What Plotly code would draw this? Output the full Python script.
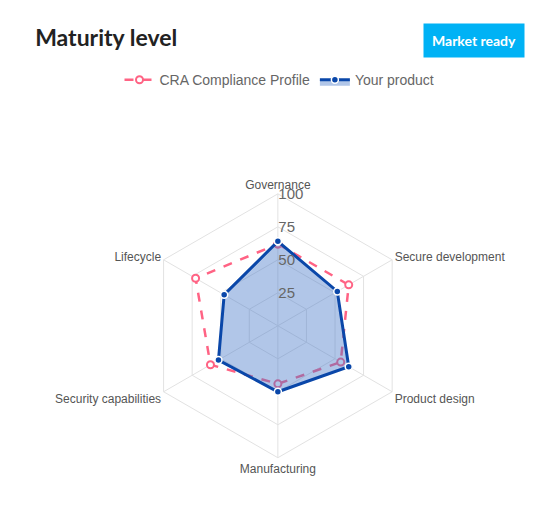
import plotly.graph_objects as go

categories = ["Governance", "Secure development", "Product design",
              "Manufacturing", "Security capabilities", "Lifecycle"]
cra_profile = [62, 62, 55, 44, 59, 72]
your_product = [64, 52, 62, 50, 52, 47]
radial_ticks = [25, 50, 75, 100]

fig = go.Figure()

fig.add_trace(go.Scatterpolar(
    r=cra_profile + cra_profile[:1],
    theta=categories + categories[:1],
    name="CRA Compliance Profile",
    mode="lines+markers",
    line=dict(color="#ff6384", width=2.5, dash="dash"),
    marker=dict(size=7, color="#ffffff", line=dict(color="#ff6384", width=2)),
))
fig.add_trace(go.Scatterpolar(
    r=your_product + your_product[:1],
    theta=categories + categories[:1],
    name="Your product",
    mode="lines+markers",
    line=dict(color="#0a47a9", width=3),
    marker=dict(size=7, color="#0a47a9", line=dict(color="#ffffff", width=1.5)),
    fill="toself",
    fillcolor="rgba(70,120,200,0.42)",
))

fig.update_layout(
    width=543, height=527,
    paper_bgcolor="white",
    font=dict(family="Liberation Sans, Arial", color="#555"),
    margin=dict(l=0, r=0, t=0, b=0),
    title=dict(text="<b>Maturity level</b>", x=0.05, xanchor="left",
               y=0.943, yanchor="middle",
               font=dict(size=23, color="#222", family="Lato, Arial")),
    legend=dict(orientation="h", x=0.5, xanchor="center", y=0.863, yanchor="middle",
                font=dict(size=14, color="#666")),
    annotations=[dict(text="<b>Market ready</b>", x=0.952, xanchor="right", y=0.939,
                      yanchor="middle", xref="paper", yref="paper", showarrow=False,
                      bgcolor="#00b2f5", borderpad=8,
                      font=dict(color="white", size=14, family="Lato, Arial"))],
    polar=dict(
        domain=dict(x=[0.254, 0.740], y=[0.146, 0.648]),
        gridshape="linear",
        bgcolor="white",
        angularaxis=dict(rotation=90, direction="clockwise",
                         gridcolor="#e2e2e2", linecolor="#e2e2e2",
                         tickfont=dict(size=12, color="#555")),
        radialaxis=dict(range=[0, 100], tickvals=radial_ticks, angle=90,
                        tickangle=90, showline=False, gridcolor="#e2e2e2",
                        tickfont=dict(size=15, color="#666")),
    ),
)

fig.write_html("out.html")
